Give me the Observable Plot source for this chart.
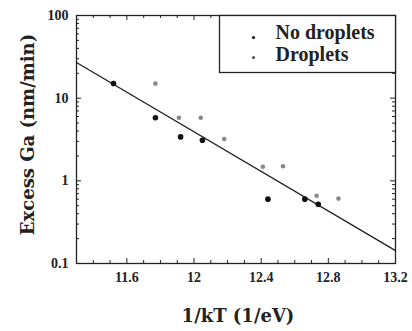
<!DOCTYPE html>
<html><head><meta charset="utf-8">
<script src="https://cdn.jsdelivr.net/npm/d3@7"></script>
<script src="https://cdn.jsdelivr.net/npm/@observablehq/plot@0.6"></script>
<style>body{margin:0;background:#fff}</style>
</head><body><div id="chart"></div>
<script>
// Data
const noDropX = [11.52, 11.77, 11.92, 12.05, 12.44, 12.66, 12.74];
const noDropY = [15, 5.8, 3.4, 3.1, 0.60, 0.60, 0.52];
const dropX = [11.77, 11.91, 12.04, 12.18, 12.41, 12.53, 12.73, 12.86];
const dropY = [15, 5.8, 5.8, 3.2, 1.48, 1.5, 0.66, 0.61];
const fitX = [11.3, 13.2];
const fitY = [27, 0.143];
const xMajor = [11.6, 12, 12.4, 12.8, 13.2];
const xMinor = [11.3,11.4,11.5,11.7,11.8,11.9,12.1,12.2,12.3,12.5,12.6,12.7,12.9,13.0,13.1];
const yMajor = [0.1, 1, 10, 100];
const yMinor = [0.2,0.3,0.4,0.5,0.6,0.7,0.8,0.9,2,3,4,5,6,7,8,9,20,30,40,50,60,70,80,90];
const seriesNames = ["No droplets", "Droplets"];
const xTitle = "1/kT (1/eV)";
const yTitle = "Excess Ga (nm/min)";

const noDrop = noDropX.map((x, i) => ({x, y: noDropY[i]}));
const drop = dropX.map((x, i) => ({x, y: dropY[i]}));
const fit = fitX.map((x, i) => ({x, y: fitY[i]}));

const W = 412, H = 331, mL = 76, mR = 17, mT = 15, mB = 68;
const pw = W - mL - mR, ph = H - mT - mB;
const ink = "#222";
const titleFont = {fontFamily: "DejaVu Serif", fontWeight: "bold", fontSize: 18, fill: ink, textAnchor: "middle", lineAnchor: "middle"};

const chart = Plot.plot({
  width: W, height: H,
  marginLeft: mL, marginRight: mR, marginTop: mT, marginBottom: mB,
  x: {domain: [11.3, 13.2]},
  y: {type: "log", domain: [0.1, 100]},
  style: {fontFamily: "Liberation Serif", fontWeight: "bold", color: ink, background: "#fff"},
  marks: [
    Plot.ruleX(xMinor, {insetTop: ph - 3, stroke: ink}),
    Plot.ruleX(xMinor, {insetBottom: ph - 3, stroke: ink}),
    Plot.ruleX(xMajor, {insetTop: ph - 5, stroke: ink}),
    Plot.ruleX(xMajor, {insetBottom: ph - 5, stroke: ink}),
    Plot.ruleY(yMinor, {insetRight: pw - 3, stroke: ink}),
    Plot.ruleY(yMinor, {insetLeft: pw - 3, stroke: ink}),
    Plot.ruleY(yMajor, {insetRight: pw - 5, stroke: ink}),
    Plot.ruleY(yMajor, {insetLeft: pw - 5, stroke: ink}),
    Plot.axisX({ticks: xMajor, tickSize: 0, tickPadding: 9, fontSize: 14, label: null, tickFormat: d => String(d)}),
    Plot.axisY({ticks: yMajor, tickSize: 0, tickPadding: 8, fontSize: 14, label: null, tickFormat: d => String(d)}),
    Plot.line(fit, {x: "x", y: "y", stroke: ink, strokeWidth: 1.3}),
    Plot.dot(drop, {x: "x", y: "y", r: 2.3, fill: "#888"}),
    Plot.dot(noDrop, {x: "x", y: "y", r: 2.8, fill: "#111"}),
    Plot.frame({stroke: ink, strokeWidth: 1.3}),
    Plot.frame({insetLeft: 143, insetBottom: ph - 57, fill: "#fff", stroke: ink, strokeWidth: 1.3}),
    Plot.dot([0], {frameAnchor: "top-right", dx: -142, dy: 22, r: 1.6, fill: "#111"}),
    Plot.dot([0], {frameAnchor: "top-right", dx: -142, dy: 42, r: 1.6, fill: "#555"}),
    Plot.text([seriesNames[0]], {text: d => d, frameAnchor: "top-right", dx: -120, dy: 17, textAnchor: "start", lineAnchor: "middle", fontSize: 20, fill: ink}),
    Plot.text([seriesNames[1]], {text: d => d, frameAnchor: "top-right", dx: -120, dy: 39, textAnchor: "start", lineAnchor: "middle", fontSize: 20, fill: ink}),
    Plot.text([xTitle], {text: d => d, frameAnchor: "bottom", dx: 2, dy: 53, ...titleFont}),
    Plot.text([yTitle], {text: d => d, frameAnchor: "left", dx: -48, dy: -5, rotate: -90, ...titleFont})
  ]
});
document.getElementById("chart").appendChild(chart);
</script>
</body></html>
